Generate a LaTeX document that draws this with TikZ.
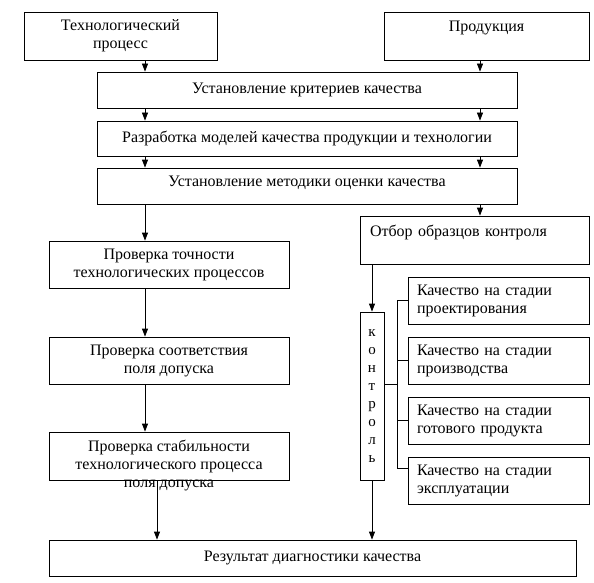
\documentclass[tikz,border=0pt]{standalone}
\usepackage{fontspec}
\setmainfont{Liberation Serif}
\usetikzlibrary{arrows.meta}
\begin{document}
\begin{tikzpicture}[x=1pt,y=-1pt,
  box/.style={draw, line width=0.8pt, inner sep=0pt, font=\fontsize{16}{18}\selectfont, align=center},
  lbox/.style={box, align=left, inner xsep=9pt, text width=163pt},
  arr/.style={-{Triangle[width=6pt,length=8pt]}, line width=0.8pt},
  ln/.style={line width=0.8pt}]
\useasboundingbox (0,0) rectangle (594,583);
% top
\node[box, minimum width=193pt, minimum height=48pt] (tp) at (120.5,36) {Технологический\\процесс};
\node[box, minimum width=205pt, minimum height=48pt] (prod) at (486.5,36) {\raisebox{8pt}[\height][\depth]{Продукция}};
\node[box, minimum width=420pt, minimum height=36pt] (crit) at (307,90) {Установление критериев качества};
\node[box, minimum width=420pt, minimum height=35pt] (razr) at (307,138.5) {Разработка моделей качества продукции и технологии};
\node[box, minimum width=420pt, minimum height=36pt] (met) at (307,186) {\raisebox{3pt}[\height][\depth]{Установление методики оценки качества}};
\coordinate (xl) at (145,0);
\coordinate (xr) at (480,0);
\coordinate (xs) at (157,0);
\coordinate (xk) at (372,0);
\coordinate (xb) at (397,0);
\draw[arr] (xl |- tp.south) -- (xl |- crit.north);
\draw[arr] (xr |- prod.south) -- (xr |- crit.north);
\draw[arr] (xl |- crit.south) -- (xl |- razr.north);
\draw[arr] (xr |- crit.south) -- (xr |- razr.north);
\draw[arr] (xl |- razr.south) -- (xl |- met.north);
\draw[arr] (xr |- razr.south) -- (xr |- met.north);
% left column
\node[box, minimum width=240pt, minimum height=47pt] (pt) at (169,264.5) {Проверка точности\\технологических процессов};
\node[box, minimum width=240pt, minimum height=47pt] (ps) at (169,360.5) {Проверка соответствия\\поля допуска};
\node[box, minimum width=240pt, minimum height=48pt] (stab) at (169,456) {};
\node[font=\fontsize{16}{18}\selectfont, align=center, inner sep=0pt] (stabt) at (169,465) {Проверка стабильности\\технологического процесса\\поля допуска};
\node[box, minimum width=527pt, minimum height=36pt] (res) at (312.5,558) {Результат диагностики качества};
\draw[arr] (xl |- met.south) -- (xl |- pt.north);
\draw[arr] (xl |- pt.south) -- (xl |- ps.north);
\draw[arr] (xl |- ps.south) -- (xl |- stab.north);
\draw[arr] (xs |- stab.south) -- (xs |- res.north);
% right column
\node[box, align=left, inner xsep=10pt, text width=209pt, minimum height=48pt] (otb) at (474.5,240) {\raisebox{8pt}[\height][\depth]{Отбор образцов контроля}};
\node[box, minimum width=24pt, minimum height=168pt, font=\fontsize{15}{17.9}\selectfont] (kon) at (372,396) {к\\о\\н\\т\\р\\о\\л\\ь};
\draw[arr] (xr |- met.south) -- (xr |- otb.north);
\draw[arr] (xk |- otb.south) -- (xk |- kon.north);
\draw[arr] (xk |- kon.south) -- (xk |- res.north);
\node[lbox, minimum height=47pt] (q1) at (498.5,300.5) {Качество на стадии\\проектирования};
\node[lbox, minimum height=47pt] (q2) at (498.5,360.5) {Качество на стадии\\производства};
\node[lbox, minimum height=47pt] (q3) at (498.5,420.5) {Качество на стадии\\готового продукта};
\node[lbox, minimum height=47pt] (q4) at (498.5,480.5) {Качество на стадии\\эксплуатации};
\coordinate (b1) at (397,300);
\coordinate (b4) at (397,468);
\draw[ln] (kon.east |- 0,384) -- (xb |- 0,384);
\draw[ln] (b1) -- (b4);
\draw[ln] (b1) -- (b1 -| q1.west);
\draw[ln] (xb |- q2.west) -- (q2.west);
\draw[ln] (xb |- q3.west) -- (q3.west);
\draw[ln] (b4) -- (b4 -| q4.west);
\end{tikzpicture}
\end{document}
